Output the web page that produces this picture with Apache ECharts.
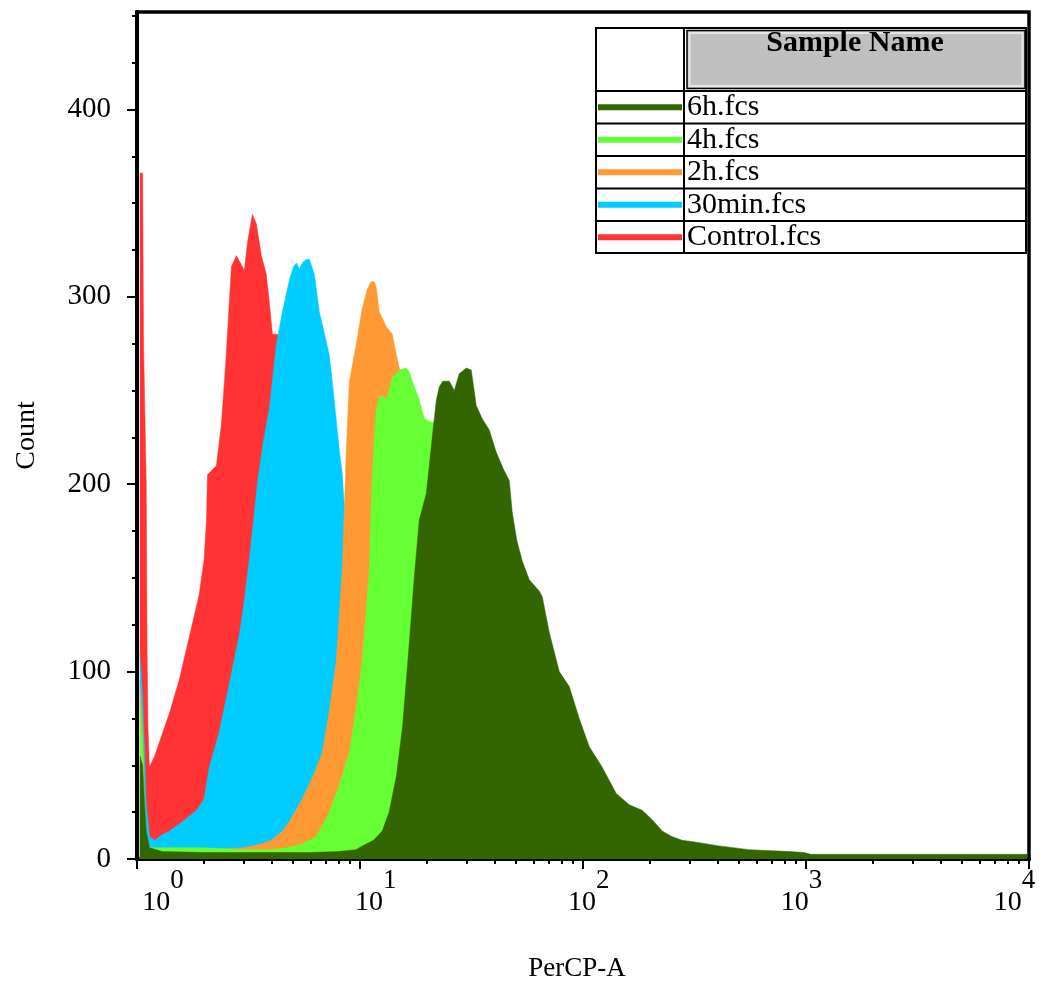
<!DOCTYPE html>
<html>
<head>
<meta charset="utf-8">
<title>PerCP-A histogram overlay</title>
<script src="https://cdn.jsdelivr.net/npm/echarts@6.0.0/dist/echarts.min.js"></script>
<style>
  html, body { margin: 0; padding: 0; background: #fff; }
  #chart { width: 1041px; height: 997px; }
</style>
</head>
<body>
<div id="chart"></div>
<script>
// histogram outlines: [PerCP-A, count]
const control = [
  [1.03, 366], [1.06, 366], [1.07, 275], [1.09, 275], [1.1, 200], [1.11, 110], [1.12, 70], [1.137, 49],
  [1.2, 55], [1.3, 67], [1.4, 78], [1.55, 96], [1.72, 119], [1.9, 141], [2.0, 160], [2.05, 181],
  [2.07, 205], [2.27, 210], [2.39, 232], [2.5, 265], [2.6, 299], [2.65, 316], [2.79, 322], [2.88, 319],
  [3.03, 314], [3.13, 329], [3.29, 344], [3.43, 339], [3.61, 322], [3.8, 312], [3.92, 297], [4.05, 280],
  [4.26, 280], [4.44, 275], [4.8, 240], [5.2, 190], [5.6, 130], [6.2, 70], [7, 30], [8, 12],
  [10, 4], [14, 1], [30, 0.5]
]
const min30 = [
  [1.03, 110], [1.06, 88], [1.08, 60], [1.1, 30], [1.137, 12], [1.2, 10], [1.3, 13], [1.4, 15],
  [1.6, 20], [1.85, 26], [2.0, 32], [2.11, 49], [2.34, 68], [2.6, 94], [2.88, 120], [3.03, 138],
  [3.19, 160], [3.48, 202], [3.69, 223], [3.92, 240], [4.22, 275], [4.49, 292], [4.82, 309], [5.03, 316],
  [5.18, 318], [5.35, 315], [5.51, 318], [5.75, 320], [5.93, 320], [6.24, 312], [6.57, 292], [7.0, 278],
  [7.28, 269], [7.51, 255], [8.08, 218], [8.33, 205], [8.7, 170], [9.2, 130], [10, 85], [11, 48],
  [12.5, 20], [15, 7], [20, 2], [30, 1], [60, 0.5]
]
const h2 = [
  [1.03, 95], [1.06, 70], [1.08, 30], [1.1, 10], [1.137, 5], [2, 5], [3, 6], [3.6, 8],
  [4.0, 10], [4.5, 15], [4.82, 20], [5.51, 32], [6.2, 45], [6.78, 57], [7.3, 80], [7.83, 106],
  [8.33, 155], [8.68, 218], [8.96, 255], [9.63, 275], [10.24, 294], [10.78, 304], [11.2, 308], [11.6, 308],
  [11.83, 305], [12.2, 292], [13.12, 284], [13.96, 280], [14.55, 269], [15.01, 262], [16.5, 235], [18, 190],
  [20, 130], [23, 70], [27, 30], [32, 12], [40, 4], [60, 1]
]
const h4 = [
  [1.03, 85], [1.06, 60], [1.08, 25], [1.1, 10], [1.137, 6], [2, 6], [3, 5], [4.0, 5],
  [4.68, 6], [5.5, 8], [6.37, 12], [7.28, 25], [8.1, 40], [8.96, 57], [9.6, 80], [10.24, 106],
  [11.01, 155], [11.3, 200], [11.59, 225], [11.83, 240], [12.2, 247], [12.7, 247], [13.12, 245], [13.5, 250],
  [13.96, 257], [15.01, 261], [16.13, 262], [16.63, 260], [17.16, 255], [18.45, 245], [19.42, 235], [21.09, 233],
  [21.98, 234], [25, 200], [30, 140], [35, 90], [42, 50], [52, 25], [65, 10], [90, 3], [150, 1]
]
const h6 = [
  [1.03, 55], [1.06, 50], [1.08, 30], [1.1, 15], [1.137, 6], [1.3, 4], [2, 3.5], [4, 3.5],
  [6, 3.5], [8, 4], [9.6, 5], [10.24, 7], [11.5, 10], [12.59, 15], [13.5, 25], [14.55, 44],
  [15.5, 70], [16.63, 115], [17.5, 150], [18.45, 181], [19.83, 195], [21.09, 225], [22.0, 245], [22.67, 252],
  [23.5, 255], [25.14, 255], [26.47, 250], [27.87, 259], [29.96, 262], [31.54, 261], [32.5, 250], [33.21, 242],
  [35.33, 235], [37.98, 229], [40.83, 217], [44, 208], [46.7, 202], [48.16, 185], [50.5, 170], [53.4, 159],
  [57.41, 149], [63.6, 143], [65.66, 140], [70.56, 121], [78.26, 100], [86.76, 92], [96.16, 75], [106.6, 60],
  [121.9, 49], [140.9, 35], [161.1, 29], [184.2, 26], [204.3, 21], [226.5, 15], [250, 12], [278.4, 10],
  [321.7, 9], [407.9, 7], [556, 5], [840, 4], [980, 3.5], [1050, 2.5], [3000, 2.5], [6000, 2.5], [9800, 2.5]
]

const legendNames = ['6h.fcs', '4h.fcs', '2h.fcs', '30min.fcs', 'Control.fcs']
const yTickLabels = [0, 100, 200, 300, 400]
const xExponents = [0, 1, 2, 3, 4]

const SERIF = '"Liberation Serif", "DejaVu Serif", serif'

// drawn back to front: Control first, 6h on top
const layers = [
  { name: 'Control.fcs', data: control, color: '#ff3333' },
  { name: '30min.fcs', data: min30, color: '#00ccff' },
  { name: '2h.fcs', data: h2, color: '#ff9933' },
  { name: '4h.fcs', data: h4, color: '#66ff33' },
  { name: '6h.fcs', data: h6, color: '#336600' }
]

// minor ticks: 25-count steps, log minors 2..9 per decade (in log10 units)
const yMinor = []
for (let v = 25; v <= 450; v += 25) if (v % 100) yMinor.push(v)
const xMinor = []
for (let d = 0; d < 4; d++) for (let m = 2; m <= 9; m++) xMinor.push(d + Math.log10(m))

const chart = echarts.init(document.getElementById('chart'))

const noLine = { show: false, onZero: false }

chart.setOption({
  backgroundColor: '#fff',
  animation: false,
  grid: {
    left: 137, right: 12, top: 12, bottom: 138,
    show: true, borderColor: '#000', borderWidth: 3.5, backgroundColor: '#fff'
  },
  legend: {
    data: legendNames,
    orient: 'vertical',
    left: 598, top: 91,
    padding: 0,
    itemGap: 0,
    itemWidth: 84, itemHeight: 6,
    icon: 'rect',
    selectedMode: false,
    textStyle: { fontFamily: SERIF, fontSize: 30, color: '#000', lineHeight: 32.5 },
    z: 20
  },
  xAxis: [
    {
      type: 'log', logBase: 10, min: 1, max: 10000, position: 'bottom',
      axisLine: { show: true, onZero: false, lineStyle: { color: '#000', width: 4 } },
      axisTick: { show: true, length: 10, lineStyle: { color: '#000', width: 2 } },
      axisLabel: { show: false },
      splitLine: { show: false },
      name: 'PerCP-A', nameLocation: 'middle', nameGap: 96,
      nameTextStyle: { fontFamily: SERIF, fontSize: 27, color: '#000', padding: [0, 12, 0, 0] }
    },
    {
      // minor log ticks
      type: 'value', min: 0, max: 4, position: 'bottom', offset: 0,
      axisLine: noLine,
      axisTick: { show: true, length: 5, customValues: xMinor, lineStyle: { color: '#000', width: 2 } },
      axisLabel: { show: false },
      splitLine: { show: false }
    },
    {
      // decade labels 10^n
      type: 'value', min: -0.1217, max: 4.068, position: 'bottom', offset: 0,
      axisLine: noLine,
      axisTick: { show: false },
      splitLine: { show: false },
      axisLabel: {
        customValues: xExponents,
        margin: 8,
        formatter: v => `{b|10}{s|${v}}`,
        rich: {
          b: { fontFamily: SERIF, fontSize: 28, color: '#000', lineHeight: 50, verticalAlign: 'bottom' },
          s: { fontFamily: SERIF, fontSize: 27, color: '#000', verticalAlign: 'top' }
        }
      }
    }
  ],
  yAxis: [
    {
      type: 'value', min: 0, max: 452, position: 'left', offset: 0,
      axisLine: { show: true, onZero: false, lineStyle: { color: '#000', width: 4 } },
      axisTick: { show: true, length: 10, customValues: yTickLabels, lineStyle: { color: '#000', width: 2 } },
      axisLabel: {
        customValues: yTickLabels, margin: 26,
        fontFamily: SERIF, fontSize: 29, color: '#000'
      },
      splitLine: { show: false },
      name: 'Count', nameLocation: 'middle', nameGap: 96,
      nameTextStyle: { fontFamily: SERIF, fontSize: 28, color: '#000' }
    },
    {
      type: 'value', min: 0, max: 452, position: 'left', offset: 0,
      axisLine: noLine,
      axisTick: { show: true, length: 5, customValues: yMinor, lineStyle: { color: '#000', width: 2 } },
      axisLabel: { show: false },
      splitLine: { show: false }
    }
  ],
  graphic: [
    // legend table
    { type: 'rect', z: 10, shape: { x: 596, y: 28, width: 430, height: 225 },
      style: { fill: '#fff', stroke: '#000', lineWidth: 2 } },
    { type: 'rect', z: 11, shape: { x: 687, y: 30.5, width: 338, height: 58 },
      style: { fill: '#c0c0c0', stroke: '#000', lineWidth: 1.5 } },
    { type: 'rect', z: 11, shape: { x: 689.5, y: 33, width: 333, height: 53 },
      style: { fill: 'none', stroke: '#e6e6e6', lineWidth: 2 } },
    { type: 'line', z: 11, shape: { x1: 684, y1: 28, x2: 684, y2: 253 }, style: { stroke: '#000', lineWidth: 2 } },
    { type: 'line', z: 11, shape: { x1: 596, y1: 91, x2: 1026, y2: 91 }, style: { stroke: '#000', lineWidth: 2 } },
    { type: 'line', z: 11, shape: { x1: 596, y1: 123.5, x2: 1026, y2: 123.5 }, style: { stroke: '#000', lineWidth: 2 } },
    { type: 'line', z: 11, shape: { x1: 596, y1: 156, x2: 1026, y2: 156 }, style: { stroke: '#000', lineWidth: 2 } },
    { type: 'line', z: 11, shape: { x1: 596, y1: 188.5, x2: 1026, y2: 188.5 }, style: { stroke: '#000', lineWidth: 2 } },
    { type: 'line', z: 11, shape: { x1: 596, y1: 221, x2: 1026, y2: 221 }, style: { stroke: '#000', lineWidth: 2 } },
    { type: 'text', z: 12, x: 855, y: 43,
      style: { text: 'Sample Name', fontFamily: SERIF, fontSize: 30, fontWeight: 'bold', fill: '#000',
        align: 'center', verticalAlign: 'middle' } }
  ],
  series: layers.map((l, i) => ({
    name: l.name,
    type: 'line',
    z: 2 + i,
    xAxisIndex: 0,
    yAxisIndex: 0,
    data: l.data,
    color: l.color,
    showSymbol: false,
    symbol: 'none',
    lineStyle: { width: 0.5, color: l.color },
    areaStyle: { color: l.color, opacity: 1 }
  }))
})
</script>
</body>
</html>
